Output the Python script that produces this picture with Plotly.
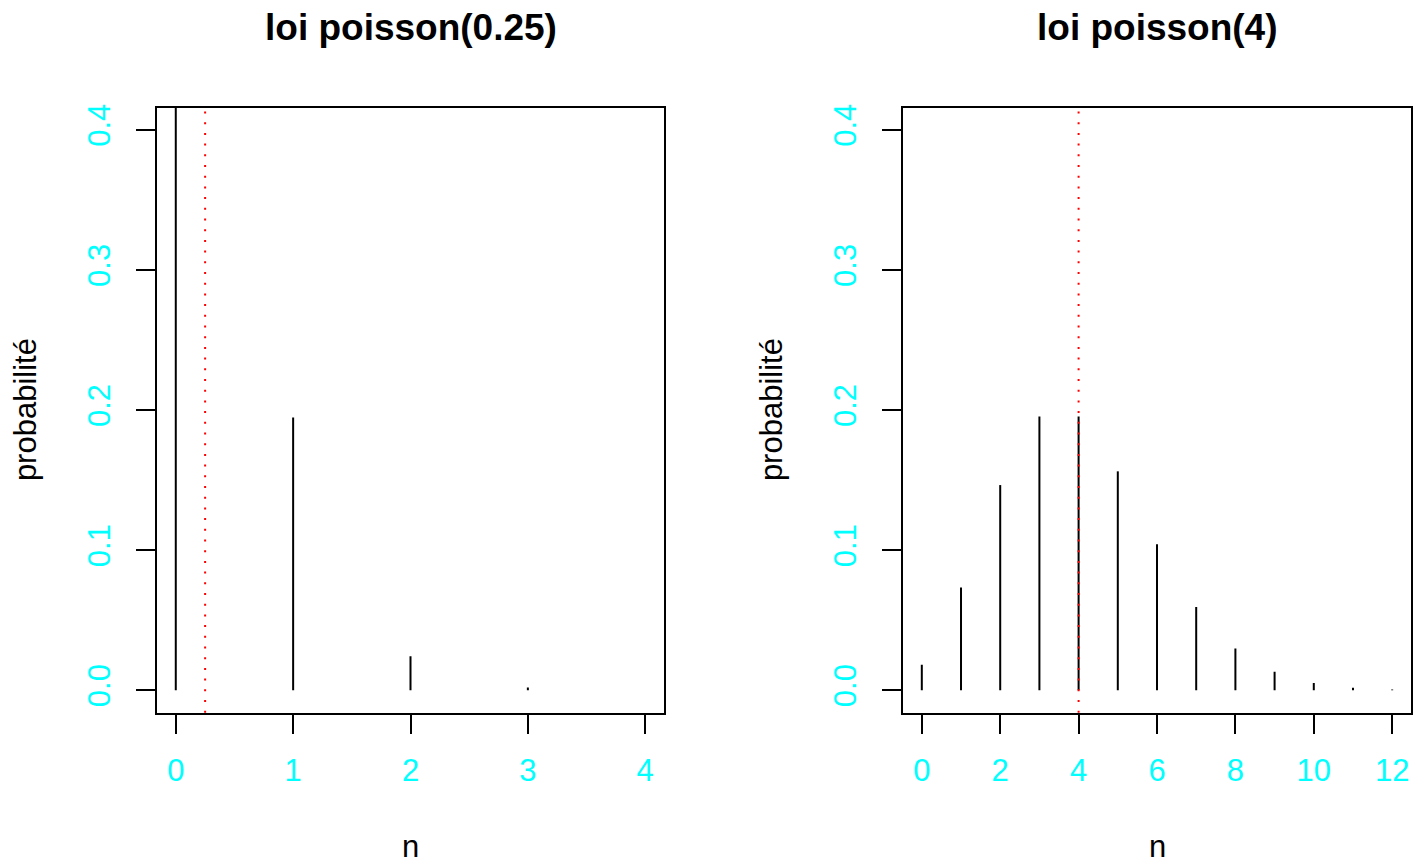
import plotly.graph_objects as go

# Data
n_left = [0, 1, 2, 3, 4]
p_left = [0.7788, 0.1947, 0.0243, 0.0020, 0.0001]
lambda_left = 0.25

n_right = [0, 1, 2, 3, 4, 5, 6, 7, 8, 9, 10, 11, 12]
p_right = [0.0183, 0.0733, 0.1465, 0.1954, 0.1954, 0.1563, 0.1042,
           0.0595, 0.0298, 0.0132, 0.0053, 0.0019, 0.0006]
lambda_right = 4

titles = ["loi poisson(0.25)", "loi poisson(4)"]
x_ticks_left = [0, 1, 2, 3, 4]
x_ticks_right = [0, 2, 4, 6, 8, 10, 12]
y_ticks = [0.0, 0.1, 0.2, 0.3, 0.4]

W, H = 1427, 868
FONT = "Liberation Sans, Arial, sans-serif"
FS = 31
CYAN = "#00FFFF"

def stems(xs, ys):
    X, Y = [], []
    for x, y in zip(xs, ys):
        X += [x, x, None]
        Y += [0, y, None]
    return X, Y

fig = go.Figure()

panels = [
    dict(n=n_left, p=p_left, lam=lambda_left, xt=x_ticks_left,
         xr=[-0.16, 4.16], dom=[157 / W, 664 / W], xa="x", ya="y", title=titles[0]),
    dict(n=n_right, p=p_right, lam=lambda_right, xt=x_ticks_right,
         xr=[-0.48, 12.48], dom=[903 / W, 1411 / W], xa="x2", ya="y2", title=titles[1]),
]

ydom = [1 - 712 / H, 1 - 104 / H]
yr = [-0.016, 0.416]

for i, pn in enumerate(panels):
    X, Y = stems(pn["n"], pn["p"])
    fig.add_trace(go.Scatter(x=X, y=Y, mode="lines", xaxis=pn["xa"], yaxis=pn["ya"],
                             line=dict(color="black", width=2), showlegend=False,
                             hoverinfo="skip"))
    sfx = "" if i == 0 else "2"
    common = dict(showline=True, mirror=True, linecolor="black", linewidth=2,
                  ticks="outside", ticklen=19, tickwidth=2, tickcolor="black",
                  showgrid=False, zeroline=False,
                  tickfont=dict(family=FONT, size=FS, color=CYAN))
    fig.update_layout(**{
        "xaxis" + sfx: dict(domain=pn["dom"], range=pn["xr"], tickmode="array",
                            tickvals=pn["xt"], anchor="y" + sfx,
                            ticklabelstandoff=10, **common),
        "yaxis" + sfx: dict(domain=ydom, range=yr, tickmode="array",
                            tickvals=y_ticks, tickformat=".1f", tickangle=-90,
                            anchor="x" + sfx, ticklabelstandoff=14, **common),
    })
    # red dotted vertical line at the mean
    fig.add_shape(type="line", xref=pn["xa"], yref=pn["ya"] + " domain",
                  x0=pn["lam"], x1=pn["lam"], y0=0, y1=1,
                  line=dict(color="red", width=2, dash="2px,8.7px"))
    cx = (pn["dom"][0] + pn["dom"][1]) / 2
    fig.add_annotation(text="<b>" + pn["title"] + "</b>", x=cx, y=1 - 24 / H,
                       xref="paper", yref="paper", showarrow=False,
                       font=dict(family=FONT, size=37, color="black"),
                       xanchor="center", yanchor="middle")
    fig.add_annotation(text="n", x=cx, y=1 - 846 / H, xref="paper", yref="paper",
                       showarrow=False, font=dict(family=FONT, size=FS, color="black"),
                       xanchor="center", yanchor="middle")
    ylx = 25 if i == 0 else 771
    fig.add_annotation(text="probabilité", x=ylx / W, y=(ydom[0] + ydom[1]) / 2,
                       xref="paper", yref="paper", showarrow=False, textangle=-90,
                       font=dict(family=FONT, size=FS, color="black"),
                       xanchor="center", yanchor="middle")

fig.update_layout(width=W, height=H, margin=dict(l=0, r=0, t=0, b=0),
                  plot_bgcolor="white", paper_bgcolor="white")

fig.write_html("out.html")
